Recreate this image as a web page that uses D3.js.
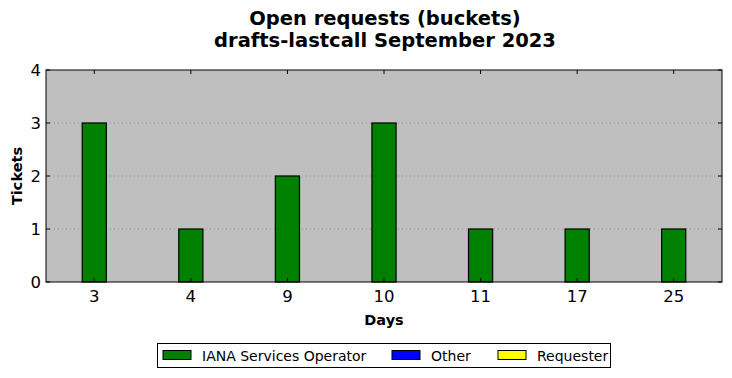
<!DOCTYPE html>
<html><head><meta charset="utf-8">
<script src="https://cdn.jsdelivr.net/npm/d3@7"></script>
<style>body{margin:0;background:#fff;} text{font-family:"DejaVu Sans",sans-serif;}</style>
</head><body>
<svg id="c" width="732" height="378"></svg>
<script>
const categories = ["3","4","9","10","11","17","25"];
const ianaValues = [3,1,2,3,1,1,1];
const yTicks = [0,1,2,3,4];
const legendLabels = ["IANA Services Operator","Other","Requester"];
const legendColors = ["#008000","#0000ff","#ffff00"];

const svg = d3.select("#c");
const L=46,R=722,T=70,B=282;
const x = d3.scaleBand().domain(categories).range([L,R]).padding(0);
const y = d3.scaleLinear().domain([0,4]).range([B,T]);

svg.append("rect").attr("x",L).attr("y",T).attr("width",R-L).attr("height",B-T).attr("fill","#bfbfbf");
// grid
svg.append("g").selectAll("line").data(yTicks.slice(1,-1)).join("line")
  .attr("x1",L).attr("x2",R).attr("y1",d=>y(d)).attr("y2",d=>y(d))
  .attr("stroke","#8c8c8c").attr("stroke-width",0.8).attr("stroke-dasharray","1,3");
// bars
const bw = x.bandwidth()*0.25;
svg.append("g").selectAll("rect").data(categories).join("rect")
  .attr("x",(d)=>x(d)+x.bandwidth()/2-bw/2)
  .attr("y",(d,i)=>y(ianaValues[i]))
  .attr("width",bw)
  .attr("height",(d,i)=>y(0)-y(ianaValues[i]))
  .attr("fill","#008000").attr("stroke","#000").attr("stroke-width",1.2);
// frame
svg.append("rect").attr("x",L).attr("y",T).attr("width",R-L).attr("height",B-T).attr("fill","none").attr("stroke","#000").attr("stroke-width",1);
// ticks inward
const tk = svg.append("g").attr("stroke","#000");
categories.forEach(c=>{const cx=x(c)+x.bandwidth()/2;
  tk.append("line").attr("x1",cx).attr("x2",cx).attr("y1",B).attr("y2",B-4);
  tk.append("line").attr("x1",cx).attr("x2",cx).attr("y1",T).attr("y2",T+4);
});
yTicks.forEach(v=>{
  tk.append("line").attr("x1",L).attr("x2",L+4).attr("y1",y(v)).attr("y2",y(v));
  tk.append("line").attr("x1",R).attr("x2",R-4).attr("y1",y(v)).attr("y2",y(v));
});
// tick labels
svg.append("g").selectAll("text").data(categories).join("text")
  .attr("x",d=>x(d)+x.bandwidth()/2).attr("y",B+20).attr("text-anchor","middle")
  .attr("font-size",16.5).text(d=>d);
svg.append("g").selectAll("text").data(yTicks).join("text")
  .attr("x",L-5).attr("y",d=>y(d)+6).attr("text-anchor","end")
  .attr("font-size",16.5).text(d=>d);
// axis labels
svg.append("text").attr("x",(L+R)/2).attr("y",325).attr("text-anchor","middle")
  .attr("font-size",14.5).attr("font-weight","bold").text("Days");
svg.append("text").attr("transform",`translate(22,${(T+B)/2}) rotate(-90)`).attr("text-anchor","middle")
  .attr("font-size",14.5).attr("font-weight","bold").text("Tickets");
// title
svg.append("text").attr("x",385).attr("y",25).attr("text-anchor","middle").attr("font-size",19.5).attr("font-weight","bold").text("Open requests (buckets)");
svg.append("text").attr("x",385).attr("y",47).attr("text-anchor","middle").attr("font-size",19.5).attr("font-weight","bold").text("drafts-lastcall September 2023");
// legend
const lg = svg.append("g");
lg.append("rect").attr("x",157.5).attr("y",343.5).attr("width",453).attr("height",24).attr("fill","#fff").attr("stroke","#000");
const lx=[163,392,498];
legendLabels.forEach((t,i)=>{
  lg.append("rect").attr("x",lx[i]).attr("y",350.5).attr("width",28).attr("height",9).attr("fill",legendColors[i]).attr("stroke","#000");
  lg.append("text").attr("x",lx[i]+39).attr("y",360.5).attr("font-size",14).text(t);
});
</script>
</body></html>
